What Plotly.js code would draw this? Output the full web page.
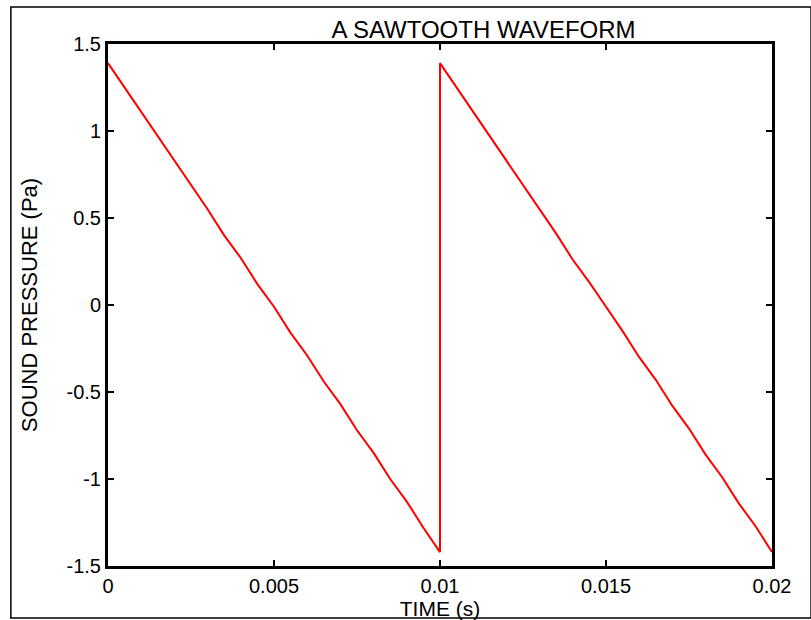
<!DOCTYPE html>
<html>
<head>
<meta charset="utf-8">
<script src="https://cdn.plot.ly/plotly-3.0.1.min.js"></script>
<style>
  html, body { margin: 0; padding: 0; background: #ffffff; }
  #chart { width: 811px; height: 620px; }
</style>
</head>
<body>
<div id="chart"></div>
<script>
// Time samples (s)
const timeS = [
  0.0000, 0.0005, 0.0010, 0.0015, 0.0020, 0.0025, 0.0030, 0.0035, 0.0040, 0.0045,
  0.0050, 0.0055, 0.0060, 0.0065, 0.0070, 0.0075, 0.0080, 0.0085, 0.0090, 0.0095,
  0.0100,
  0.0100, 0.0105, 0.0110, 0.0115, 0.0120, 0.0125, 0.0130, 0.0135, 0.0140, 0.0145,
  0.0150, 0.0155, 0.0160, 0.0165, 0.0170, 0.0175, 0.0180, 0.0185, 0.0190, 0.0195,
  0.0200
];
// Sound pressure (Pa)
const pressurePa = [
  1.39, 1.25, 1.11, 0.97, 0.83, 0.69, 0.55, 0.40, 0.27, 0.12,
  -0.01, -0.16, -0.29, -0.44, -0.57, -0.72, -0.85, -1.00, -1.13, -1.28,
  -1.42,
  1.39, 1.25, 1.11, 0.97, 0.83, 0.69, 0.55, 0.41, 0.26, 0.13,
  -0.01, -0.15, -0.30, -0.43, -0.58, -0.71, -0.86, -0.99, -1.14, -1.27,
  -1.42
];
const xTickVals = [0, 0.005, 0.01, 0.015, 0.02];
const xTickText = ["0", "0.005", "0.01", "0.015", "0.02"];
const yTickVals = [-1.5, -1, -0.5, 0, 0.5, 1, 1.5];
const yTickText = ["-1.5", "-1", "-0.5", "0", "0.5", "1", "1.5"];

const FONT = '"Liberation Sans", Arial, Helvetica, sans-serif';

const trace = {
  x: timeS,
  y: pressurePa,
  type: 'scatter',
  mode: 'lines',
  line: { color: '#ff0000', width: 2 },
  hoverinfo: 'x+y'
};

const axisCommon = {
  showgrid: false,
  zeroline: false,
  showline: true,
  linecolor: '#000000',
  linewidth: 3,
  mirror: 'allticks',
  ticks: 'inside',
  ticklen: 6,
  tickwidth: 2,
  tickcolor: '#000000',
  tickfont: { family: FONT, size: 20, color: '#000000' }
};

const layout = {
  width: 811,
  height: 620,
  paper_bgcolor: '#ffffff',
  plot_bgcolor: '#ffffff',
  showlegend: false,
  margin: { l: 108, r: 39, t: 44, b: 54, pad: 0 },
  font: { family: FONT, color: '#000000' },
  title: {
    text: 'A SAWTOOTH WAVEFORM',
    font: { family: FONT, size: 24, color: '#000000' },
    xref: 'paper', x: 0.5656, xanchor: 'center',
    yref: 'container', y: 0.953, yanchor: 'middle'
  },
  xaxis: Object.assign({}, axisCommon, {
    range: [0, 0.02],
    tickvals: xTickVals,
    ticktext: xTickText,
    ticklabelstandoff: 0,
    title: { text: 'TIME (s)', font: { family: FONT, size: 21, color: '#000000' }, standoff: 0 }
  }),
  yaxis: Object.assign({}, axisCommon, {
    range: [-1.5, 1.5],
    tickvals: yTickVals,
    ticktext: yTickText,
    ticklabelstandoff: 0,
    title: { text: 'SOUND PRESSURE (Pa)', font: { family: FONT, size: 22, color: '#000000' }, standoff: 23 }
  }),
  shapes: [{
    type: 'rect', xref: 'paper', yref: 'paper',
    x0: -0.1463, x1: 1.0588, y0: -0.0996, y1: 1.0709,
    line: { color: '#000000', width: 1.5 },
    fillcolor: 'rgba(0,0,0,0)'
  }]
};

Plotly.newPlot('chart', [trace], layout, { displayModeBar: false, staticPlot: true });
</script>
</body>
</html>
